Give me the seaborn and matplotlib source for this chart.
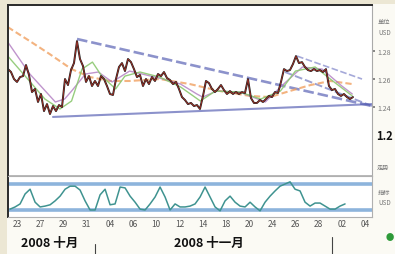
import numpy as np
import matplotlib
matplotlib.use("Agg")
import matplotlib.pyplot as plt
import seaborn as sns
from matplotlib.patches import Rectangle
from matplotlib.lines import Line2D

# ---------------- data ----------------
# price series (EUR/USD), sampled roughly every quarter trading day, starting day -0.78
price = [1.2671, 1.2650, 1.2600, 1.2579, 1.2614, 1.2621, 1.2700, 1.2629, 1.2507, 1.2529,
         1.2436, 1.2493, 1.2371, 1.2421, 1.2350, 1.2407, 1.2371, 1.2414, 1.2400, 1.2600,
         1.2557, 1.2664, 1.2714, 1.2871, 1.2743, 1.2693, 1.2579, 1.2621, 1.2550, 1.2586,
         1.2550, 1.2621, 1.2600, 1.2550, 1.2493, 1.2486, 1.2600, 1.2686, 1.2714, 1.2657,
         1.2743, 1.2721, 1.2671, 1.2614, 1.2629, 1.2550, 1.2600, 1.2564, 1.2614, 1.2586,
         1.2636, 1.2621, 1.2650, 1.2607, 1.2593, 1.2564, 1.2579, 1.2529, 1.2471, 1.2450,
         1.2421, 1.2429, 1.2407, 1.2414, 1.2386, 1.2479, 1.2586, 1.2571, 1.2529, 1.2507,
         1.2529, 1.2557, 1.2521, 1.2493, 1.2514, 1.2493, 1.2507, 1.2493, 1.2507, 1.2500,
         1.2600, 1.2464, 1.2429, 1.2429, 1.2450, 1.2436, 1.2457, 1.2479, 1.2471, 1.2507,
         1.2500, 1.2579, 1.2671, 1.2657, 1.2664, 1.2707, 1.2764, 1.2714, 1.2721, 1.2686,
         1.2664, 1.2657, 1.2671, 1.2657, 1.2664, 1.2650, 1.2671, 1.2550, 1.2521, 1.2529,
         1.2493, 1.2479, 1.2493, 1.2471, 1.2457, 1.2471]
price_start_day = -0.78
price_step_day = 0.2586

# moving averages (day, price)
ma_long_day = [-0.8, 1.1, 2.8, 4.7, 6.3, 8.0, 9.7, 12.3, 14.9, 17.5, 20.1, 21.8, 23.5, 25.3, 27.0, 28.9]
ma_long = [1.2971, 1.2871, 1.2779, 1.2671, 1.2614, 1.2586, 1.2586, 1.2600, 1.2564, 1.2514,
           1.2479, 1.2471, 1.2514, 1.2557, 1.2586, 1.2564]
ma_mid_day = [-0.8, 1.1, 3.3, 4.1, 4.7, 5.9, 7.0, 8.2, 9.7, 12.6, 14.1, 15.5, 16.0, 17.2,
              19.2, 21.4, 22.8, 24.6, 26.3, 28.0, 28.9]
ma_mid = [1.2864, 1.2636, 1.2436, 1.2457, 1.2514, 1.2636, 1.2650, 1.2579, 1.2657, 1.2600,
          1.2564, 1.2493, 1.2471, 1.2514, 1.2507, 1.2436, 1.2550, 1.2686, 1.2671, 1.2550, 1.2493]
ma_short_day = [-0.8, 0.7, 2.4, 3.7, 4.7, 5.6, 6.5, 7.3, 8.5, 9.3, 10.6, 12.3, 14.1, 15.8,
                17.1, 19.2, 21.0, 22.7, 24.0, 25.7, 27.0, 28.9]
ma_short = [1.2764, 1.2621, 1.2457, 1.2386, 1.2443, 1.2671, 1.2721, 1.2621, 1.2529, 1.2621,
            1.2650, 1.2614, 1.2543, 1.2443, 1.2514, 1.2507, 1.2457, 1.2514, 1.2657, 1.2686,
            1.2600, 1.2479]

# trend lines (day, price)
trend_top_day = [5.17, 30.6]
trend_top = [1.2886, 1.2407]
trend_low_day = [3.10, 30.6]
trend_low = [1.2329, 1.2421]
chan_up_day = [24.14, 29.74]
chan_up = [1.2764, 1.2600]
chan_lo_day = [23.1, 30.6]
chan_lo = [1.2650, 1.2407]

# oscillator
osc = [22, 27, 34, 57, 68, 38, 27, 29, 32, 41, 52, 68, 75, 75, 66, 41, 20, 20, 55, 68,
       32, 34, 73, 71, 52, 38, 22, 20, 34, 50, 73, 50, 20, 34, 27, 27, 29, 34, 50, 73,
       50, 27, 18, 41, 52, 38, 29, 27, 38, 27, 18, 38, 52, 64, 75, 80, 85, 68, 64, 38,
       29, 36, 36, 29, 22, 22, 29, 34]
osc_start_day = -0.60
osc_step_day = 0.431
osc_levels = [80, 20]

tick_days = [0, 2, 4, 6, 8, 10, 12, 14, 16, 18, 20, 22, 24, 26, 28, 30]
tick_labels = ["23", "27", "29", "31", "04", "06", "10", "12", "14", "18", "20", "24",
               "26", "28", "02", "04"]
price_ticks = [1.24, 1.26, 1.28]
month_labels = ["2008 十月", "2008 十一月"]

# ---------------- drawing ----------------
sns.set_theme(style="white")
plt.rcParams['font.family'] = ['Noto Sans CJK SC', 'DejaVu Sans']

W, H = 395, 255
fig = plt.figure(figsize=(W / 100, H / 100), dpi=100, facecolor='#ece7d4')
fig.patches.append(Rectangle((7 / W, 0), 1, 250 / H, transform=fig.transFigure,
                             facecolor='#fbfaf4', edgecolor='none', zorder=-5))

ax = fig.add_axes([8 / W, 78 / H, 364 / W, 171 / H])
ax2 = fig.add_axes([8 / W, 37 / H, 364 / W, 41 / H])
for a in (ax, ax2):
    a.set_facecolor('white')

xlim = (-0.78, 30.6)

pday = price_start_day + price_step_day * np.arange(len(price))
oday = osc_start_day + osc_step_day * np.arange(len(osc))

# trend lines
sns.lineplot(x=trend_top_day, y=trend_top, ax=ax, color='#4f58b0', lw=1.9, alpha=0.65,
             linestyle=(0, (4, 1.5)))
sns.lineplot(x=trend_low_day, y=trend_low, ax=ax, color='#4f58b0', lw=1.5, alpha=0.65)
sns.lineplot(x=chan_up_day, y=chan_up, ax=ax, color='#6a70c0', lw=1.2, alpha=0.6,
             linestyle=(0, (4, 1.5)))
sns.lineplot(x=chan_lo_day, y=chan_lo, ax=ax, color='#5a62b5', lw=1.4, alpha=0.6,
             linestyle=(0, (4, 1.5)))

# moving averages
sns.lineplot(x=ma_long_day, y=ma_long, ax=ax, color='#f0a060', lw=1.5, alpha=0.8,
             linestyle=(0, (3, 1.5)))
sns.lineplot(x=ma_mid_day, y=ma_mid, ax=ax, color='#b07ac0', lw=1.0, alpha=0.8)
sns.lineplot(x=ma_short_day, y=ma_short, ax=ax, color='#8cc870', lw=1.0, alpha=0.9)

# price
sns.lineplot(x=pday, y=price, ax=ax, color='#1c1c1c', lw=1.4)
sns.lineplot(x=pday, y=price, ax=ax, color='#d8382a', lw=0.5, alpha=0.85)

ax.set_xlim(*xlim)
ax.set_ylim(1.1907, 1.3129)
ax.set_xticks([])
ax.yaxis.tick_right()
ax.set_yticks(price_ticks)
ax.set_yticklabels([f"{v:.2f}" for v in price_ticks])
ax.tick_params(axis='y', labelsize=5, colors='#777777', length=2, pad=2, right=True)
ax.set_xlabel("")
ax.set_ylabel("")
for s in ('left', 'top'):
    ax.spines[s].set_color('#2a2a2a')
    ax.spines[s].set_linewidth(1.4)
ax.spines['right'].set_color('#aaaaaa')
ax.spines['bottom'].set_color('#b0b0b0')
ax.spines['right'].set_linewidth(0.8)

# oscillator
for lv in osc_levels:
    ax2.axhline(lv, color='#8db4dc', lw=2.6)
sns.lineplot(x=oday, y=osc, ax=ax2, color='#3f9390', lw=1.1)
ax2.set_xlim(*xlim)
ax2.set_ylim(3.8, 98.5)
ax2.set_yticks([])
ax2.set_xticks(tick_days)
ax2.set_xticklabels(tick_labels)
ax2.tick_params(axis='x', labelsize=6, colors='#555555', length=0, pad=1.5)
ax2.set_xlabel("")
ax2.set_ylabel("")
ax2.spines['left'].set_color('#2a2a2a')
ax2.spines['left'].set_linewidth(1.4)
for s in ('top', 'bottom', 'right'):
    ax2.spines[s].set_color('#b0b0b0')
    ax2.spines[s].set_linewidth(0.8)

# bottom month labels and separators
fig.text(50 / W, 1 - 243 / H, month_labels[0], ha='center', va='center', fontsize=9,
         fontweight='bold', color='#111111')
fig.text(209 / W, 1 - 243 / H, month_labels[1], ha='center', va='center', fontsize=9,
         fontweight='bold', color='#111111')
fig.add_artist(Line2D([95 / W, 95 / W], [0, 1 - 245 / H], color='#444444', lw=0.8))
fig.add_artist(Line2D([332 / W, 332 / W], [0, 1 - 238 / H], color='#444444', lw=0.8))

# right column texts
fig.text(378 / W, 1 - 22 / H, "单位", fontsize=4.5, color='#777777', va='center')
fig.text(378 / W, 1 - 33 / H, "USD", fontsize=4.5, color='#777777', va='center')
fig.text(376 / W, 1 - 137 / H, "1.2", fontsize=8, fontweight='bold', color='#111111',
         va='center')
fig.text(377 / W, 1 - 168 / H, "走势", fontsize=4.5, color='#777777', va='center')
fig.text(378 / W, 1 - 193 / H, "指标", fontsize=4.5, color='#777777', va='center')
fig.text(378 / W, 1 - 203 / H, "USD", fontsize=4.5, color='#777777', va='center')
fig.text(390 / W, 1 - 238 / H, "●", fontsize=6, color='#2e9a3a', va='center', ha='center')

fig.savefig("out.png", dpi=100, facecolor=fig.get_facecolor())
